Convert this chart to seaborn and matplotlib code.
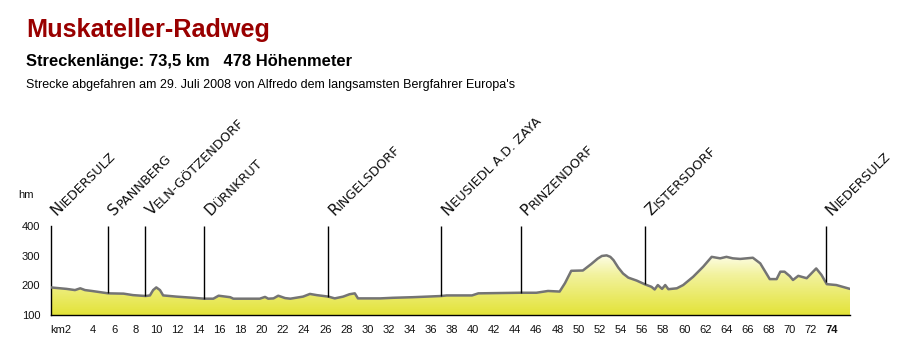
import numpy as np
import pandas as pd
import matplotlib
matplotlib.use("Agg")
import matplotlib.pyplot as plt
import matplotlib.transforms as mtrans
from matplotlib.colors import LinearSegmentedColormap
from matplotlib.textpath import TextToPath
from matplotlib.font_manager import FontProperties
import seaborn as sns

# ---------------- data ----------------
km = [0, 0.9, 1.5, 2.3, 2.8, 3.25, 3.9, 5.45, 6.9, 7.8, 9.0, 9.4, 9.7, 10.0, 10.35,
      10.65, 11.9, 13.5, 14.5, 15.4, 15.9, 17.0, 17.3, 19.8, 20.3, 20.6, 21.1, 21.55,
      22.2, 22.7, 23.9, 24.55, 25.2, 26.3, 26.9, 27.7, 28.3, 28.8, 29.1, 31.2, 32.4,
      34.3, 37.0, 37.5, 39.9, 40.5, 44.4, 46.0, 47.1, 48.2, 48.7, 49.3, 50.4, 51.2,
      51.8, 52.2, 52.65, 53.0, 53.3, 53.75, 54.2, 54.7, 55.5, 56.3, 56.9, 57.2, 57.5,
      57.9, 58.2, 58.5, 59.3, 59.9, 60.85, 61.8, 62.6, 63.4, 64.0, 64.6, 65.3, 66.5,
      67.2, 68.1, 68.75, 69.1, 69.5, 70.0, 70.3, 70.8, 71.6, 72.5, 73.0, 73.5, 74.4,
      75.7]
elev = [193, 190, 188, 184, 190, 184, 181, 173, 172, 167, 164, 166, 184, 193, 184,
        166, 162, 158, 155, 155, 165, 160, 155, 155, 161, 155, 156, 165,
        157, 155, 162, 171, 167, 162, 156, 162, 170, 173, 156, 156, 158,
        160, 164, 166, 166, 173, 175, 175, 181, 179, 207, 249, 250, 272,
        290, 299, 301, 296, 285, 260, 240, 226, 216, 203, 195, 186, 201,
        188, 201, 187, 190, 201, 229, 263, 296, 291, 296, 291, 289, 293,
        274, 221, 221, 246, 246, 231, 218, 232, 224, 257, 235, 204, 201,
        188]

place_km = [0, 5.45, 8.96, 14.55, 26.3, 37.0, 44.5, 56.3, 73.4]
place_names = ["Niedersulz", "Spannberg", "Veln-Götzendorf", "Dürnkrut", "Ringelsdorf",
               "Neusiedl a.d. Zaya", "Prinzendorf", "Zistersdorf", "Niedersulz"]

xtick_values = list(range(2, 75, 2))
xtick_labels = ["km2"] + [str(v) for v in range(4, 75, 2)]
ytick_values = [100, 200, 300, 400]

title = "Muskateller-Radweg"
subtitle = "Streckenlänge: 73,5 km   478 Höhenmeter"
note = "Strecke abgefahren am 29. Juli 2008 von Alfredo dem langsamsten Bergfahrer Europa's"

# ---------------- style ----------------
sns.set_style("white")
plt.rcParams["font.family"] = ["Liberation Sans", "DejaVu Sans"]

df = pd.DataFrame({"km": km, "elev": elev})
xmax = km[-1]

fig = plt.figure(figsize=(9, 3.4), dpi=100)
ax = fig.add_axes([50.7 / 900, 25 / 340, (850 - 50.7) / 900, 89 / 340])

# gradient fill under the profile
cmap = LinearSegmentedColormap.from_list(
    "prof", [(0.0, (0.89, 0.89, 0.22)), (0.45, (0.95, 0.95, 0.62)),
             (0.7, (1.0, 1.0, 0.95)), (1.0, (1.0, 1.0, 1.0))])
poly = ax.fill_between(df["km"], df["elev"], 100, facecolor="none", lw=0)
grad = np.linspace(0, 1, 256).reshape(-1, 1)
im = ax.imshow(grad, extent=[0, xmax, 100, 400], origin="lower", aspect="auto",
               cmap=cmap, zorder=1)
im.set_clip_path(poly.get_paths()[0], transform=ax.transData)

sns.lineplot(data=df, x="km", y="elev", ax=ax, color="#747474", lw=1.8, zorder=3)

# place markers
bottoms = np.interp(place_km, km, elev)
ax.vlines(place_km[1:], bottoms[1:], 400, color="black", lw=1, zorder=4)

ax.set_xlim(0, xmax)
ax.set_ylim(100, 400)
ax.set_xlabel("")
ax.set_ylabel("")

ax.set_xticks(xtick_values)
ax.set_xticklabels(xtick_labels)
ax.set_xticks(np.arange(0, 76, 1), minor=True)
ax.set_yticks(ytick_values)
ax.set_yticklabels([str(v) for v in ytick_values])
ax.tick_params(axis="x", which="both", direction="out", length=3, width=1,
               color="black", labelsize=8, pad=4, labelcolor="#111111")
ax.tick_params(axis="y", which="major", direction="inout", length=9, width=1,
               color="black", labelsize=8, pad=3, labelcolor="#111111")
labs = ax.get_xticklabels()
labs[0].set_horizontalalignment("right")
labs[-1].set_fontweight("bold")

for s in ["top", "right"]:
    ax.spines[s].set_visible(False)
for s in ["left", "bottom"]:
    ax.spines[s].set_color("black")
    ax.spines[s].set_linewidth(1)

# rotated place labels (small-caps look)
ttp = TextToPath()
big = FontProperties(family="DejaVu Sans", size=11)
small = FontProperties(family="DejaVu Sans", size=9.3)
c45 = np.cos(np.pi / 4)
for k, name in zip(place_km, place_names):
    s = name.upper()
    ox, oy = 4.5, 7.0
    tr = mtrans.offset_copy(ax.transData, fig=fig, x=ox, y=oy, units="points")
    ax.text(k, 400, s[0], fontproperties=big, rotation=45, rotation_mode="anchor",
            ha="left", va="baseline", transform=tr, clip_on=False, color="#111111")
    w, h, d = ttp.get_text_width_height_descent(s[0], big, ismath=False)
    tr2 = mtrans.offset_copy(ax.transData, fig=fig, x=ox + w * c45, y=oy + w * c45,
                             units="points")
    ax.text(k, 400, s[1:], fontproperties=small, rotation=45, rotation_mode="anchor",
            ha="left", va="baseline", transform=tr2, clip_on=False, color="#111111")

fig.text(18 / 900, 1 - 195 / 340, "hm", fontsize=8, va="center", ha="left", color="#111111")

fig.text(26 / 900, 1 - 37 / 340, title, fontsize=18.2, fontweight="bold", color="#990000",
         va="baseline", ha="left")
fig.text(26 / 900, 1 - 66 / 340, subtitle, fontsize=11.9, fontweight="bold", color="black",
         va="baseline", ha="left")
fig.text(26 / 900, 1 - 88 / 340, note, fontsize=9, color="black", va="baseline", ha="left")

fig.savefig("out.png", dpi=100)
